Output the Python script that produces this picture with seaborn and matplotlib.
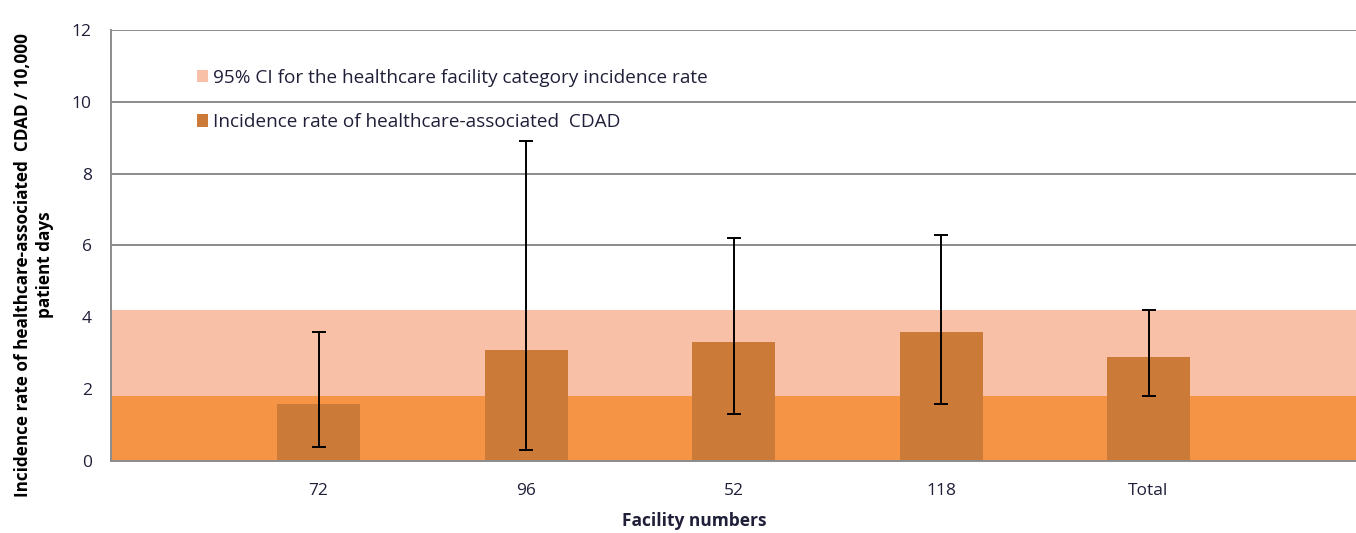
import numpy as np
import pandas as pd
import matplotlib
matplotlib.use('Agg')
import matplotlib.pyplot as plt
import seaborn as sns
from matplotlib.patches import Patch

# --- data ---
facilities = ['72', '96', '52', '118', 'Total']
rates = [1.6, 3.1, 3.3, 3.6, 2.9]
ci_lower = [0.4, 0.3, 1.3, 1.6, 1.8]
ci_upper = [3.6, 8.9, 6.2, 6.3, 4.2]
category_ci = [1.8, 4.2]  # 95% CI for healthcare facility category

df = pd.DataFrame({'Facility': facilities, 'Rate': rates,
                   'Low': ci_lower, 'High': ci_upper})

sns.set_style('white')
plt.rcParams['font.family'] = ['Open Sans', 'DejaVu Sans']

light_col = '#F8C1A7'
band_col = '#F59445'
bar_col = '#CC7A38'
grid_col = '#8C8C8C'
text_col = '#1F1F3A'

fig = plt.figure(figsize=(13.56, 5.33), dpi=100)
ax = fig.add_axes([0.082, 0.135, 0.918, 0.809])

# gridlines behind everything
ax.set_axisbelow(True)
ax.yaxis.grid(True, color=grid_col, linewidth=1.4, zorder=0)

# category band
ax.axhspan(0, category_ci[0], color=band_col, lw=0, zorder=1)
ax.axhspan(category_ci[0], category_ci[1], color=light_col, lw=0, zorder=1)

sns.barplot(data=df, x='Facility', y='Rate', color=bar_col, width=0.4,
            saturation=1, errorbar=None, linewidth=0, edgecolor='none',
            ax=ax, zorder=2)

# error bars
xpos = np.arange(len(facilities))
yerr = [df['Rate'] - df['Low'], df['High'] - df['Rate']]
ax.errorbar(xpos, df['Rate'], yerr=yerr, fmt='none', ecolor='black',
            elinewidth=1.4, capsize=5, capthick=1.4, zorder=3)

ax.set_xlim(-1, 5)
ax.set_ylim(0, 12)
ax.set_yticks(range(0, 13, 2))

for s in ['top', 'right']:
    ax.spines[s].set_visible(False)
for s in ['left', 'bottom']:
    ax.spines[s].set_color(grid_col)
    ax.spines[s].set_linewidth(1.4)
    ax.spines[s].set_zorder(4)

ax.tick_params(axis='both', colors=grid_col, length=6, width=1.4,
               labelcolor=text_col, labelsize=12.5)
ax.tick_params(axis='x', pad=10)
ax.tick_params(axis='y', pad=8)

ax.set_xlabel('Facility numbers', fontsize=12.5, fontweight='bold', color=text_col)
ax.xaxis.set_label_coords(0.468, -0.118)
ax.set_ylabel('Incidence rate of healthcare-associated  CDAD / 10,000\npatient days',
              fontsize=12.3, fontweight='bold', color='black', linespacing=1.3)
ax.yaxis.set_label_coords(-0.046, 0.455)

handles = [Patch(facecolor=light_col, edgecolor='none'),
           Patch(facecolor=bar_col, edgecolor='none')]
labels = ['95% CI for the healthcare facility category incidence rate',
          'Incidence rate of healthcare-associated  CDAD']
leg = ax.legend(handles, labels, loc='upper left', bbox_to_anchor=(0.055, 0.95),
                frameon=False, fontsize=13.7, labelspacing=1.4,
                handlelength=0.6, handleheight=0.6, handletextpad=0.25)
for t in leg.get_texts():
    t.set_color(text_col)

fig.savefig('out.png', dpi=100)
